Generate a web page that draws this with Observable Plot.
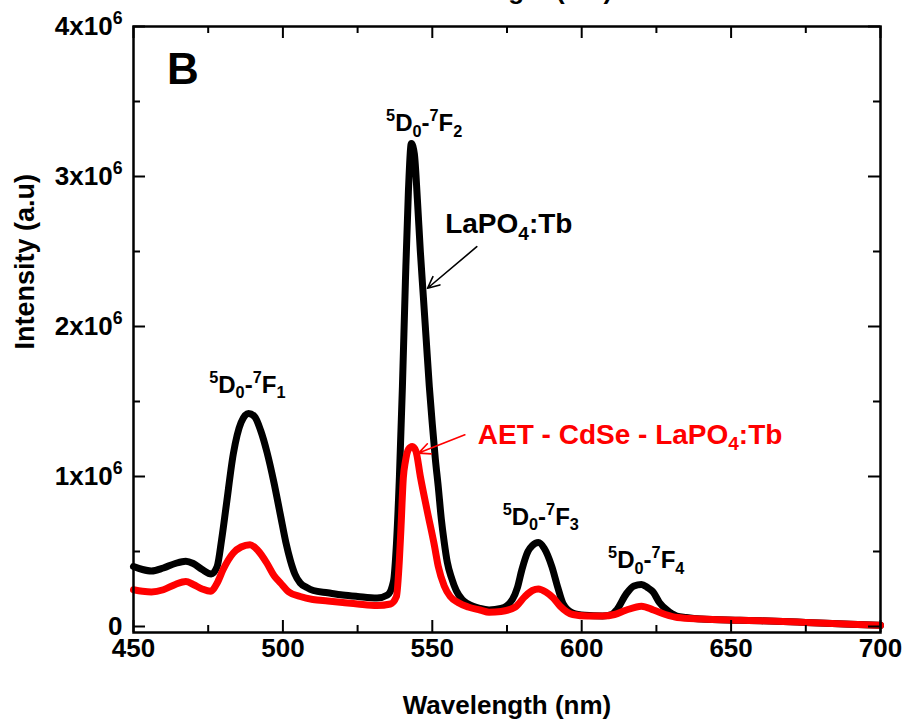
<!DOCTYPE html>
<html><head><meta charset="utf-8">
<script src="https://cdn.jsdelivr.net/npm/d3@7"></script>
<script src="https://cdn.jsdelivr.net/npm/@observablehq/plot@0.6"></script>
<style>
html,body{margin:0;padding:0;background:#fff;overflow:hidden;}
#wrap{position:relative;width:906px;height:727px;overflow:hidden;}
#cut{position:absolute;top:-23px;left:0;width:1016px;text-align:center;font:bold 26px "Liberation Sans",Arial,sans-serif;line-height:26px;color:#000;}
#chart{position:absolute;top:0;left:0;}
</style></head><body>
<div id="wrap"><div id="chart"></div><div id="cut">Wavelength (nm)</div></div>
<script>
// ---- data (intensity in units of 10^6 a.u.) ----
const lapoWavelength = [450,453,456,460,464,467.5,470,473,476,478,479.5,481,483.4,486,488.5,490.5,492.5,494.7,497,499.2,501,502.5,504,505.8,508,510.2,515,520,525,531.5,535,537,538,539,540,541,542,543,544,545,546,547,548,549,550,551,552,553,554,555,556.5,558,560,562,566,569,573,576.8,578.5,580,582,583.5,585.5,587.5,590,592,593.8,597,601,607,610,611.7,615,617.5,620,622,623.9,626,628.5,631.8,635,640,653,660,675,690,700];
const lapoIntensity  = [0.40,0.38,0.37,0.39,0.42,0.435,0.42,0.38,0.35,0.40,0.58,0.80,1.15,1.36,1.42,1.40,1.31,1.16,0.96,0.74,0.56,0.44,0.35,0.29,0.26,0.24,0.225,0.21,0.20,0.19,0.21,0.30,0.55,1.0,1.6,2.3,2.9,3.22,3.15,2.85,2.5,2.2,1.9,1.6,1.35,1.12,0.93,0.72,0.56,0.43,0.32,0.24,0.18,0.15,0.12,0.11,0.12,0.18,0.26,0.38,0.50,0.54,0.56,0.52,0.40,0.26,0.15,0.09,0.075,0.07,0.08,0.11,0.22,0.27,0.28,0.26,0.23,0.16,0.11,0.07,0.06,0.05,0.042,0.038,0.027,0.015,0.008];
const aetWavelength = [450,453,456,460,464,467.5,470,473,475.8,478,480,483.4,486,489,491.5,494.7,497,499.2,502,505.8,510,515,520,525,531.5,536,538,539,539.5,540.3,541,542,543.3,544.5,546,548.3,550.7,552,554,556,558.6,562,566,569,573,577.8,581,583.5,585.5,588,590.5,592.8,597,602,607,611,615,620,624,628,632,640,653,660,675,690,700];
const aetIntensity  = [0.245,0.235,0.23,0.245,0.28,0.30,0.28,0.25,0.235,0.29,0.38,0.49,0.53,0.545,0.51,0.42,0.34,0.29,0.23,0.20,0.18,0.17,0.16,0.15,0.14,0.15,0.20,0.45,0.65,0.99,1.10,1.18,1.20,1.17,1.0,0.77,0.54,0.40,0.27,0.20,0.16,0.13,0.11,0.095,0.10,0.13,0.20,0.24,0.25,0.23,0.19,0.135,0.08,0.07,0.07,0.08,0.11,0.135,0.11,0.08,0.06,0.05,0.042,0.038,0.027,0.015,0.008];

const xMajorTicks = [450,500,550,600,650,700];
const xMinorTicks = [475,525,575,625,675];
const yMajorTicks = [0,1,2,3,4];
const yMinorTicks = [0.5,1.5,2.5,3.5];
const yTickLabels = ["0","1x10^6","2x10^6","3x10^6","4x10^6"];

const peakLabels = ["^5D_0-^7F_1","^5D_0-^7F_2","^5D_0-^7F_3","^5D_0-^7F_4"];
const peakLabelX = [488.1,547.3,586.3,621.6];
const peakLabelY = [1.61,3.355,0.73,0.44];
const seriesLabels = ["LaPO_4:Tb","AET - CdSe - LaPO_4:Tb"];
const seriesLabelX = [575.6,616.2];
const seriesLabelY = [2.68,1.278];
const seriesColors = ["#000000","#ff0000"];
const arrowFromX = [564.9,560.9], arrowFromY = [2.532,1.278];
const arrowToX = [548.4,545.4], arrowToY = [2.255,1.156];
const panelLetter = "B", panelX = 466.5, panelY = 3.71;

// ---- build tables ----
const lapo = lapoWavelength.map((w,i)=>({w, v: lapoIntensity[i]}));
const aet = aetWavelength.map((w,i)=>({w, v: aetIntensity[i]}));
const peaks = peakLabels.map((t,i)=>({t, x: peakLabelX[i], y: peakLabelY[i]}));
const series = seriesLabels.map((t,i)=>({t, x: seriesLabelX[i], y: seriesLabelY[i], c: seriesColors[i],
  x1: arrowFromX[i], y1: arrowFromY[i], x2: arrowToX[i], y2: arrowToY[i]}));

const W = 906, H = 727, mL = 133, mR = 26, mT = 26, mB = 95;
const iW = W - mL - mR, iH = H - mT - mB;
const MAJ = 12, MIN = 7;

const chart = Plot.plot({
  width: W, height: H, marginLeft: mL, marginRight: mR, marginTop: mT, marginBottom: mB,
  style: {fontFamily: "'Liberation Sans', Arial, sans-serif", background: "white", color: "black"},
  x: {domain: [450, 700]},
  y: {domain: [-0.04, 4]},
  marks: [
    Plot.line(lapo, {x: "w", y: "v", stroke: "#000", strokeWidth: 7, curve: "monotone-x"}),
    Plot.line(aet, {x: "w", y: "v", stroke: "#ff0000", strokeWidth: 7, curve: "monotone-x"}),
    Plot.tickX(xMajorTicks, {x: d => d, insetTop: iH - MAJ, stroke: "#000", strokeWidth: 2}),
    Plot.tickX(xMinorTicks, {x: d => d, insetTop: iH - MIN, stroke: "#000", strokeWidth: 2}),
    Plot.tickX(xMajorTicks, {x: d => d, insetBottom: iH - MAJ, stroke: "#000", strokeWidth: 2}),
    Plot.tickX(xMinorTicks, {x: d => d, insetBottom: iH - MIN, stroke: "#000", strokeWidth: 2}),
    Plot.tickY(yMajorTicks, {y: d => d, insetRight: iW - MAJ, stroke: "#000", strokeWidth: 2}),
    Plot.tickY(yMinorTicks, {y: d => d, insetRight: iW - MIN, stroke: "#000", strokeWidth: 2}),
    Plot.tickY(yMajorTicks, {y: d => d, insetLeft: iW - MAJ, stroke: "#000", strokeWidth: 2}),
    Plot.tickY(yMinorTicks, {y: d => d, insetLeft: iW - MIN, stroke: "#000", strokeWidth: 2}),
    Plot.frame({stroke: "#000", strokeWidth: 2.5}),
    Plot.axisX(xMajorTicks, {tickSize: 0, tickPadding: 6, fontSize: 26, fontWeight: "bold", label: null}),
    Plot.axisY(yMajorTicks, {tickSize: 0, tickPadding: 11, fontSize: 26, fontWeight: "bold", label: null,
      tickFormat: d => yTickLabels[yMajorTicks.indexOf(d)]}),
    Plot.text(["Wavelength (nm)"], {frameAnchor: "bottom", dy: 81, text: d => d, fontSize: 26, fontWeight: "bold"}),
    Plot.text(["Intensity (a.u)"], {frameAnchor: "left", dx: -108, dy: 20, rotate: -90, text: d => d, fontSize: 27, fontWeight: "bold"}),
    Plot.text([panelLetter], {x: () => panelX, y: () => panelY, text: d => d, fontSize: 44, fontWeight: "bold"}),
    Plot.text(peaks, {x: "x", y: "y", text: "t", fontSize: 24, fontWeight: "bold", className: "rich"}),
    Plot.text(series, {x: "x", y: "y", text: "t", fill: "c", fontSize: 28, fontWeight: "bold", className: "rich"}),
    Plot.arrow(series, {x1: "x1", y1: "y1", x2: "x2", y2: "y2", stroke: "c", strokeWidth: 1.6, headLength: 12, headAngle: 50})
  ]
});
document.getElementById("chart").appendChild(chart);

// turn ^x / _x markup into real superscript / subscript tspans
const NS = "http://www.w3.org/2000/svg";
chart.querySelectorAll("text").forEach(el => {
  const s = el.textContent;
  if (!/[\^_]/.test(s)) return;
  const fs = parseFloat(getComputedStyle(el).fontSize) || 20;
  const parts = []; let buf = "";
  for (let i = 0; i < s.length; i++) {
    const c = s[i];
    if ((c === "^" || c === "_") && i + 1 < s.length) {
      if (buf) { parts.push({t: buf, k: 0}); buf = ""; }
      parts.push({t: s[i + 1], k: c === "^" ? 1 : -1}); i++;
    } else buf += c;
  }
  if (buf) parts.push({t: buf, k: 0});
  while (el.firstChild) el.removeChild(el.firstChild);
  let cur = 0;
  for (const p of parts) {
    const ts = document.createElementNS(NS, "tspan");
    ts.textContent = p.t;
    const target = p.k === 1 ? -0.42 * fs : p.k === -1 ? 0.24 * fs : 0;
    ts.setAttribute("dy", (target - cur).toFixed(2));
    cur = target;
    if (p.k) ts.setAttribute("font-size", (0.68 * fs).toFixed(1));
    el.appendChild(ts);
  }
});
</script>
</body></html>
